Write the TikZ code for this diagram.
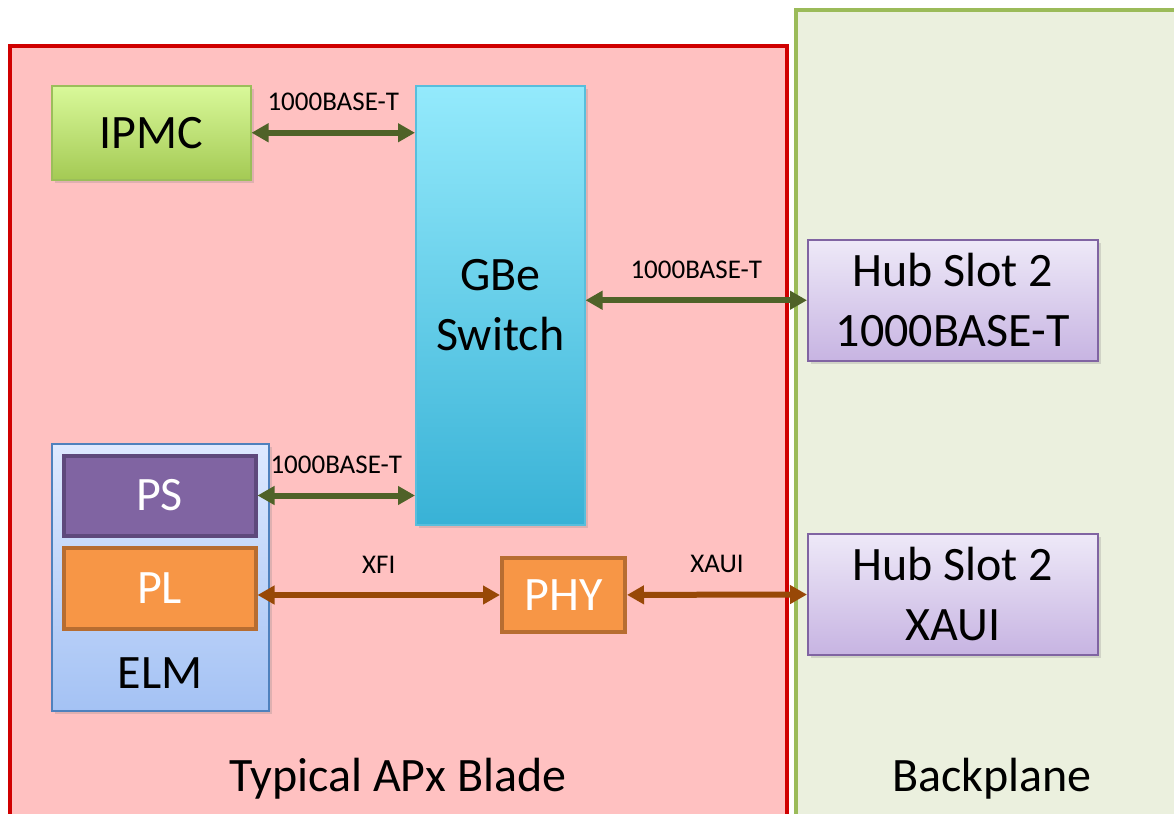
\documentclass[tikz,border=0pt]{standalone}
\usepackage{fontspec}
\setmainfont{Carlito}
\usetikzlibrary{arrows.meta, shadows, positioning}

\definecolor{bladefill}{RGB}{255,193,193}
\definecolor{bladeline}{RGB}{208,0,0}
\definecolor{planefill}{RGB}{235,240,222}
\definecolor{planeline}{RGB}{155,187,89}
\definecolor{gline}{RGB}{79,98,40}
\definecolor{oline}{RGB}{152,72,7}
\definecolor{psfill}{RGB}{128,100,162}
\definecolor{psline}{RGB}{94,73,124}
\definecolor{plfill}{RGB}{247,150,70}
\definecolor{plline}{RGB}{183,109,49}

\begin{document}
\begin{tikzpicture}[x=0.5pt, y=-0.5pt,
    big/.style={font=\fontsize{24}{30}\selectfont, align=center},
    small/.style={font=\fontsize{13.5}{15}\selectfont},
    box/.style={big, anchor=north west, inner sep=0pt,
      drop shadow={opacity=0.25, shadow xshift=1.5pt, shadow yshift=-1.5pt}},
    solid/.style={big, anchor=north west, inner sep=0pt, text=white, line width=2pt},
    glink/.style={line width=3pt, draw=gline,
      {Triangle[length=8.5pt,width=9pt]}-{Triangle[length=8.5pt,width=9pt]}},
    olink/.style={glink, draw=oline}
  ]
  \useasboundingbox (0,0) rectangle (1174,814);
  \clip (0,0) rectangle (1174,814);

  % blade and backplane
  \draw[line width=2pt, draw=bladeline, fill=bladefill] (10,46) rectangle (787,840);
  \draw[line width=1.75pt, draw=planeline, fill=planefill] (796,10) rectangle (1190,840);
  \node[big] at (398,779) {Typical APx Blade};
  \node[big] at (992,779) {Backplane};

  % boxes
  \node[box, draw={rgb,255:red,155;green,190;blue,90}, line width=0.75pt,
    top color={rgb,255:red,217;green,249;blue,154}, bottom color={rgb,255:red,164;green,202;blue,84},
    minimum width=99.5pt, minimum height=47pt] (ipmc) at (51,85) {IPMC};
  \node[box, draw={rgb,255:red,88;green,190;blue,220}, line width=0.75pt,
    top color={rgb,255:red,148;green,234;blue,252}, bottom color={rgb,255:red,56;green,178;blue,214},
    minimum width=84.5pt, minimum height=219.5pt] (gbe) at (415,85) {GBe\\Switch};
  \node[box, draw=psfill, line width=0.75pt,
    top color={rgb,255:red,238;green,233;blue,248}, bottom color={rgb,255:red,199;green,180;blue,226},
    minimum width=145pt, minimum height=60.5pt] (hubge) at (807,239) {Hub Slot 2\\1000BASE-T};
  \node[box, draw=psfill, line width=0.75pt,
    top color={rgb,255:red,238;green,233;blue,248}, bottom color={rgb,255:red,199;green,180;blue,226},
    minimum width=145pt, minimum height=60.5pt] (hubx) at (807,533) {Hub Slot 2\\XAUI};

  \node[box, draw={rgb,255:red,79;green,129;blue,189}, line width=0.75pt,
    top color={rgb,255:red,222;green,233;blue,255}, bottom color={rgb,255:red,164;green,194;blue,244},
    minimum width=108.5pt, minimum height=133.5pt] (elm) at (51,443) {};
  \node[big, above=8pt] (elmtxt) at (elm.south) {ELM};
  \node[solid, draw=psline, fill=psfill, minimum width=96pt, minimum height=40pt] (ps) at (61.5,453.5) {PS};
  \node[solid, draw=plline, fill=plfill, minimum width=96pt, minimum height=40.5pt] (pl) at (61.5,545.5) {PL};
  \node[solid, draw=plline, fill=plfill, minimum width=61.5pt, minimum height=37pt] (phy) at (500,556) {PHY};

  % links
  \draw[glink] (ipmc) -- (ipmc -| gbe.west) node[small, midway, above=6pt] {1000BASE-T};
  \draw[glink] (gbe.east |- hubge) -- (hubge) node[small, midway, above=6pt] {1000BASE-T};
  \draw[glink] (ps) -- (ps -| gbe.west) node[small, midway, above=6pt] {1000BASE-T};
  \draw[olink] (pl.east |- phy) -- (phy) node[small, midway, above=6pt] {XFI};
  \draw[olink] (phy) -- (hubx) node[small, midway, above=6pt] {XAUI};
\end{tikzpicture}
\end{document}
